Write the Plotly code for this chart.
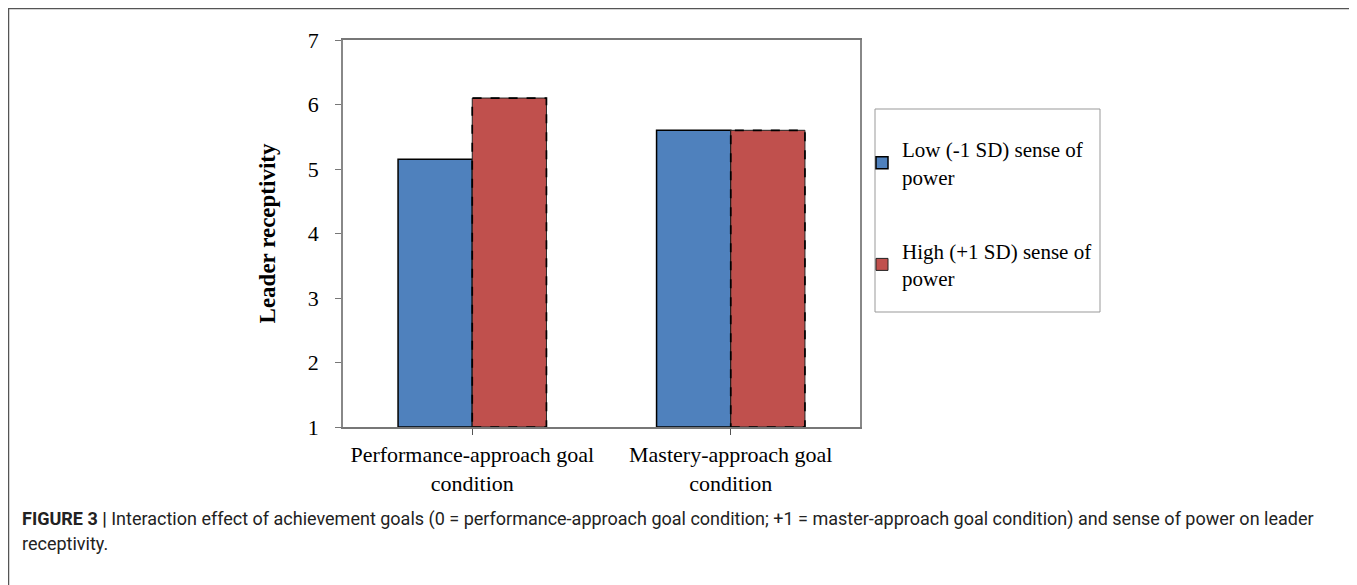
import plotly.graph_objects as go

# ---- data ----
categories = ["Performance-approach goal<br>condition", "Mastery-approach goal<br>condition"]
low_power = [5.15, 5.60]
high_power = [6.10, 5.60]
series_names = ["Low (-1 SD) sense of<br>power", "High (+1 SD) sense of<br>power"]
y_ticks = [1, 2, 3, 4, 5, 6, 7]

W, H = 1357, 585
OFF = 8  # page body margin compensation

def px(x):
    return (x - OFF) / W

def py(y):
    return 1 - (y - OFF) / H

serif = "Liberation Serif, Times New Roman, serif"
capfont = "Roboto, Liberation Sans, Arial, sans-serif"

blue = "#4F81BD"
red = "#C0504D"

bar_w = 0.287  # in category units
xi = list(range(len(categories)))

fig = go.Figure()
fig.add_trace(go.Bar(
    x=xi, y=[v - 1 for v in low_power], base=1, name=series_names[0],
    width=bar_w, offset=-bar_w,
    marker=dict(color=blue, line=dict(color="black", width=1.5)),
    legendgroup="a",
))
fig.add_trace(go.Bar(
    x=xi, y=[v - 1 for v in high_power], base=1, name=series_names[1],
    width=bar_w, offset=0,
    marker=dict(color=red, line=dict(color="#222", width=1)),
    legendgroup="b",
))

# dashed outlines for the high-power bars, derived from data
for i, v in enumerate(high_power):
    fig.add_shape(type="rect", xref="x", yref="y",
                  x0=i, x1=i + bar_w, y0=1, y1=v,
                  line=dict(color="black", width=1.7, dash="dash"))

fig.update_layout(
    template="none",
    width=W, height=H,
    margin=dict(l=0, r=0, t=0, b=0, autoexpand=False),
    paper_bgcolor="white", plot_bgcolor="white",
    font=dict(family=serif, color="black"),
    barmode="overlay",
    showlegend=True,
    legend=dict(
        x=px(862), y=py(129), xanchor="left", yanchor="top",
        bgcolor="rgba(0,0,0,0)", borderwidth=0,
        font=dict(family=serif, size=21, color="black"),
        tracegroupgap=44, itemwidth=30,
    ),
    xaxis=dict(
        domain=[px(343), px(860)], range=[-0.5, 1.5], automargin=False,
        tickmode="array", tickvals=xi, ticktext=categories,
        tickson="boundaries", ticks="outside", ticklen=6, tickcolor="#555",
        showline=True, linecolor="#777", linewidth=1.5, mirror=True,
        showgrid=False, zeroline=False,
        tickfont=dict(family=serif, size=22, color="black"),
        ticklabelstandoff=1,
    ),
    yaxis=dict(
        domain=[py(427), py(40)], range=[1, 7], tickvals=y_ticks, automargin=False,
        ticks="outside", ticklen=6, tickcolor="#777",
        showline=True, linecolor="#888", linewidth=1.5, mirror=True,
        showgrid=False, zeroline=False,
        tickfont=dict(family=serif, size=22, color="black"),
        ticklabelstandoff=12,
        title=dict(text="<b>Leader receptivity</b>", standoff=26,
                   font=dict(family=serif, size=23, color="black")),
    ),
)

# outer frame and legend box
fig.add_shape(type="rect", xref="paper", yref="paper",
              x0=px(8.5), x1=px(1355), y0=-0.05, y1=py(8.5),
              line=dict(color="#555", width=1.5), layer="below")
fig.add_shape(type="rect", xref="paper", yref="paper",
              x0=px(875), x1=px(1100), y0=py(312), y1=py(109),
              line=dict(color="#999", width=1), layer="below")

# caption
fig.add_annotation(
    xref="paper", yref="paper", x=px(20), y=py(519),
    xanchor="left", yanchor="middle", showarrow=False, align="left",
    text="<b>FIGURE 3 |</b> Interaction effect of achievement goals (0 = performance-approach goal condition; +1 = master-approach goal condition) and sense of power on leader",
    font=dict(family=capfont, size=18, color="#222"),
)
fig.add_annotation(
    xref="paper", yref="paper", x=px(20), y=py(543),
    xanchor="left", yanchor="middle", showarrow=False, align="left",
    text="receptivity.",
    font=dict(family=capfont, size=18, color="#222"),
)

fig.write_html("out.html")
